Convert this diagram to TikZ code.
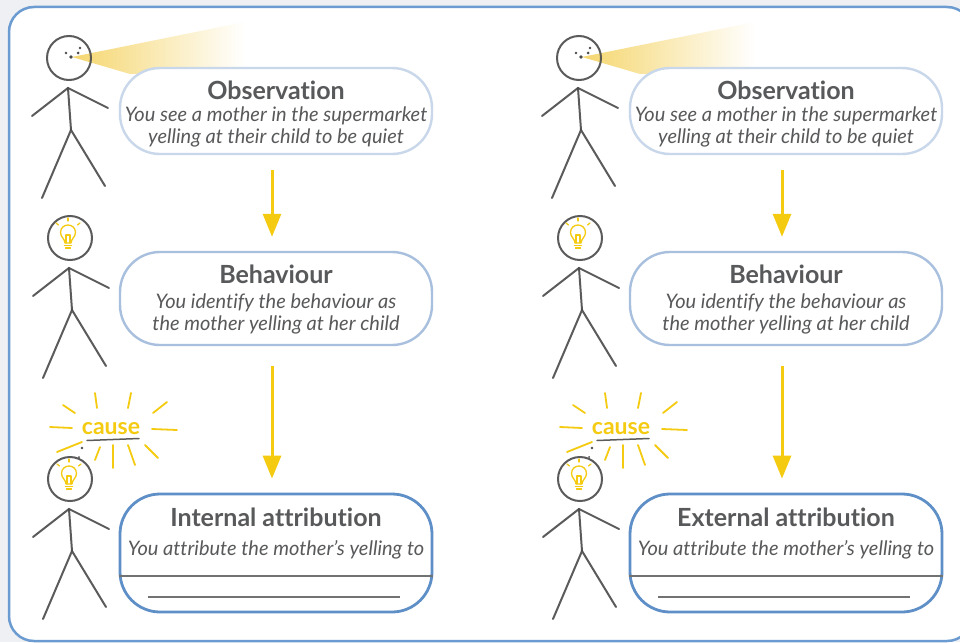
\documentclass[tikz,border=0pt]{standalone}
\usepackage{fontspec}
\setmainfont{Lato}[Ligatures=NoCommon]
\usetikzlibrary{arrows.meta}

\definecolor{pagegrey}{HTML}{EEF0F3}
\definecolor{frameblue}{HTML}{6B9BD0}
\definecolor{obsblue}{HTML}{C9D7EA}
\definecolor{behblue}{HTML}{A8C0DE}
\definecolor{attblue}{HTML}{5F8FC7}
\definecolor{textgrey}{HTML}{58595B}
\definecolor{pencilgrey}{HTML}{4A4A4A}
\definecolor{sunyellow}{HTML}{F4CB10}
\definecolor{beamyellow}{HTML}{F5D66E}

\tikzset{
  frame/.style={draw=frameblue, line width=2.5pt, rounded corners=25pt, fill=white},
  stagebox/.style={draw=#1, fill=white, line width=2.4pt, rounded corners=40pt,
    minimum width=312pt, inner sep=0pt},
  titletext/.style={text=textgrey, font=\fontsize{25}{28}\selectfont\bfseries,
    anchor=base, inner sep=0pt},
  bodytext/.style={text=textgrey, font=\fontsize{20}{23}\selectfont\itshape,
    anchor=base, inner sep=0pt},
  flowarrow/.style={draw=sunyellow, line width=3pt,
    -{Triangle[width=18pt,length=23pt]}},
  pencil/.style={draw=pencilgrey, line width=2pt, line cap=round, opacity=0.9},
  bulbline/.style={draw=sunyellow, line width=1.3pt, line cap=round, line join=round},
  ray/.style={draw=sunyellow, line width=1.8pt, line cap=round},
  writeline/.style={draw=textgrey!85, line width=1.3pt},
  stickman/.pic={
    \draw[pencil] (0,0) circle[radius=22];
    \draw[pencil] (-1,30) -- (2,72);
    \draw[pencil] (-37,58) -- (-1,30) -- (39,50);
    \draw[pencil] (-27,140) -- (2,72) -- (36,128);
  },
  bulb/.pic={
    \draw[bulbline] (-3,7) .. controls (-3,3) and (-7.5,1) .. (-7.5,-3.5)
      .. controls (-7.5,-8.5) and (-3.5,-11) .. (0,-11)
      .. controls (3.5,-11) and (7.5,-8.5) .. (7.5,-3.5)
      .. controls (7.5,1) and (3,3) .. (3,7) -- cycle;
    \draw[bulbline] (-3.5,9.5) -- (3.5,9.5);
    \draw[bulbline] (-2.5,12) -- (2.5,12);
    \draw[bulbline] (-2,7) -- (-2,-1) -- (2,-1) -- (2,7);
    \draw[bulbline] (-12,-13) -- (-9.5,-11);
    \draw[bulbline] (0,-18) -- (0,-15);
    \draw[bulbline] (12,-13) -- (9.5,-11);
  }
}

\begin{document}
\begin{tikzpicture}[x=1pt,y=-1pt]
\useasboundingbox (0,0) rectangle (960,642);
\fill[pagegrey] (0,0) rectangle (960,642);
\begin{scope}
  \clip (0,0) rectangle (960,642);
  \path[frame] (9,7) rectangle (972,641);
\end{scope}

\foreach \dx/\name/\kind in {0/L/Internal attribution, 510/R/External attribution}{
\begin{scope}[xshift=\dx pt]
  % light beam from the eye of the observer
  \shade[left color=beamyellow, right color=white]
    (72,57) -- (245,22) -- (245,72) -- (130,74) -- cycle;

  % the three observers
  \pic (fig1\name) at (69,58) {stickman};
  \pic (fig2\name) at (70,238) {stickman};
  \pic (fig3\name) at (70,479) {stickman};

  % eyes
  \fill[pencilgrey] (71,57) circle[radius=1.8];
  \fill[pencilgrey] (66,53) circle[radius=1.3];
  \fill[pencilgrey] (78,53) circle[radius=1.5];
  \fill[pencilgrey] (80,48) circle[radius=1.3];

  % ideas
  \pic (bulb2\name) at (68,236) {bulb};
  \pic (bulb3\name) at (69,477) {bulb};

  % the cause burst
  \draw[ray] (95,393) -- (97,408);
  \draw[ray] (131,393) -- (128,408);
  \draw[ray] (167,402) -- (153,413);
  \draw[ray] (63,405) -- (75,413);
  \draw[ray] (50,427) -- (72,428);
  \draw[ray] (152,429) -- (177,430);
  \draw[ray] (57,452) -- (82,442);
  \draw[ray] (100,447) -- (95,460);
  \draw[ray] (113,445) -- (113,468);
  \draw[ray] (128,445) -- (135,465);
  \draw[ray] (145,445) -- (158,458);
  \node[text=sunyellow, font=\fontsize{23}{25}\selectfont\bfseries,
        anchor=base, inner sep=0pt] (cause\name) at (111,434) {cause};
  \draw[pencil, line width=1.5pt] (87,440.5) -- (139,438.5);
  \fill[pencilgrey] (82,448) circle[radius=1.3];
  \fill[pencilgrey] (79,457) circle[radius=1];

  % stage boxes
  \node[stagebox=obsblue, minimum height=86pt] (obs\name) at (276,111) {};
  \node[stagebox=behblue, minimum height=93pt] (beh\name) at (276,298.5) {};
  \node[stagebox=attblue, minimum height=118pt, line width=2.8pt] (att\name) at (276,553) {};

  \node[titletext] (obsT\name) at (276,99) {Observation};
  \node[bodytext] (obsA\name) at (276,121) {You see a mother in the supermarket};
  \node[bodytext] (obsB\name) at (276,143) {yelling at their child to be quiet};

  \node[titletext] (behT\name) at (276,283) {Behaviour};
  \node[bodytext] (behA\name) at (276,308) {You identify the behaviour as};
  \node[bodytext] (behB\name) at (276,330) {the mother yelling at her child};

  \node[titletext] (attT\name) at (276,526) {\kind};
  \node[bodytext] (attA\name) at (276,555) {You attribute the mother’s yelling to};
  \draw[writeline] (att\name.west |- 0,576) -- (att\name.east |- 0,576);
  \draw[writeline] (148,597) -- (400,597);

  % flow between the stages
  \draw[flowarrow, shorten <=15pt, shorten >=14pt]
    ([xshift=-4pt]obs\name.south) -- ([xshift=-4pt]beh\name.north);
  \draw[flowarrow, shorten <=20pt, shorten >=14pt]
    ([xshift=-4pt]beh\name.south) -- ([xshift=-4pt]att\name.north);
\end{scope}
}
\end{tikzpicture}
\end{document}
